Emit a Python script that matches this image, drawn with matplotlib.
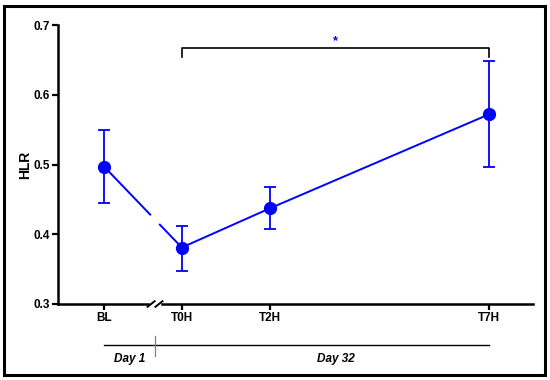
import numpy as np
import matplotlib.pyplot as plt
from matplotlib.patches import Rectangle

plt.rcParams['font.family'] = ['Liberation Sans', 'DejaVu Sans']

# data
labels = ["BL", "T0H", "T2H", "T7H"]
hours = [-1.77, 0, 2, 7]
hlr = [0.497, 0.381, 0.437, 0.572]
err_lo = [0.445, 0.348, 0.407, 0.497]
err_hi = [0.549, 0.412, 0.468, 0.648]

blue = "#0000ff"
brk = -0.61   # x of the axis break

fig = plt.figure(figsize=(5.5, 3.8), dpi=100)
ax = fig.add_axes([58/550, 1 - 304/380, 475/550, 279/380])
fig.patches.append(Rectangle((4/550, 5/380), 541/550, 369/380, transform=fig.transFigure,
                             fill=False, edgecolor="black", linewidth=2.2))

x = np.array(hours)
y = np.array(hlr)
yerr = [y - np.array(err_lo), np.array(err_hi) - y]

# line, broken at the axis break
ax.plot(x[1:], y[1:], color=blue, lw=1.4, zorder=2)
gap = 0.11
slope = (y[1] - y[0]) / (x[1] - x[0])
ax.plot([x[0], brk - gap], [y[0], y[0] + slope * (brk - gap - x[0])], color=blue, lw=1.4)
ax.plot([brk + gap, x[1]], [y[0] + slope * (brk + gap - x[0]), y[1]], color=blue, lw=1.4)

ax.errorbar(x, y, yerr=yerr, fmt="o", color=blue, ms=8.5, capsize=4.5,
            elinewidth=1.3, capthick=1.3, zorder=3)

ax.set_xlim(-2.82, 8.0)
ax.set_ylim(0.3, 0.7)
ax.set_yticks([0.3, 0.4, 0.5, 0.6, 0.7])
ax.set_yticklabels(["0.3", "0.4", "0.5", "0.6", "0.7"])
ax.set_xticks(hours)
ax.set_xticklabels(labels)
for s in ["top", "right"]:
    ax.spines[s].set_visible(False)
ax.spines["left"].set_linewidth(1.8)
ax.spines["bottom"].set_linewidth(1.8)
ax.spines["bottom"].set_bounds(-2.82, brk - 0.17)
ax.plot([brk + 0.17, 8.0], [0.3, 0.3], color="black", lw=1.8, clip_on=False)
# break slashes
for dx in (-0.09, 0.09):
    ax.plot([brk + dx - 0.08, brk + dx + 0.08], [0.296, 0.304], color="black", lw=1.4, clip_on=False)
ax.tick_params(axis="both", width=1.6, length=4, labelsize=8.5, pad=2)
for t in ax.get_xticklabels() + ax.get_yticklabels():
    t.set_fontweight("bold")
ax.set_ylabel("HLR", fontsize=10, fontweight="bold", labelpad=1)

# significance bracket
ax.plot([0, 0, 7, 7], [0.654, 0.667, 0.667, 0.654], color="black", lw=1.2, clip_on=False)
ax.text(3.5, 0.677, "*", color=blue, ha="center", va="center", fontsize=9, fontweight="bold")

# day timeline
tr = ax.get_xaxis_transform()
ax.plot([hours[0], hours[-1]], [-0.147, -0.147], color="black", lw=1.0, transform=tr, clip_on=False)
ax.plot([brk, brk], [-0.115, -0.186], color="gray", lw=0.9, transform=tr, clip_on=False)
ax.text((hours[0] + brk) / 2, -0.196, "Day 1", transform=tr, ha="center", va="center",
        fontsize=8.5, fontweight="bold", style="italic")
ax.text(3.5, -0.196, "Day 32", transform=tr, ha="center", va="center",
        fontsize=8.5, fontweight="bold", style="italic")

fig.savefig("out.png", dpi=100)
